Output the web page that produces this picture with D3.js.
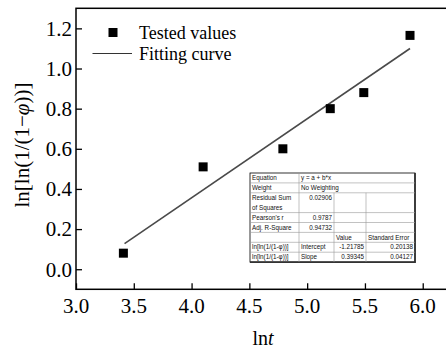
<!DOCTYPE html>
<html>
<head>
<meta charset="utf-8">
<script src="https://cdn.jsdelivr.net/npm/d3@7"></script>
<style>
  body { margin: 0; background: #fff; }
  svg { display: block; }
  .tick-label { font-family: "Liberation Serif", "Times New Roman", serif; font-size: 21px; }
  .tbl { font-family: "Liberation Sans", Arial, sans-serif; font-size: 6.3px; fill: #111; }
</style>
</head>
<body>
<div id="container"></div>
<script>
// measured points: x = ln t, y = ln[ln(1/(1-phi))]
const lnT = [3.41, 4.10, 4.79, 5.20, 5.49, 5.89];
const lnLn = [0.08, 0.51, 0.60, 0.80, 0.88, 1.165];

// linear fit y = a + b*x
const fitA = -1.21786;
const fitB = 0.39345;
const fitX = [3.42, 5.89];

const xTicks = [3.0, 3.5, 4.0, 4.5, 5.0, 5.5, 6.0];
const yTicks = [0.0, 0.2, 0.4, 0.6, 0.8, 1.0, 1.2];

const legendLabels = ["Tested values", "Fitting curve"];

// fit report table (Origin style)
const tblLabels = ["Equation", "Weight", "Residual Sum", "of Squares", "Pearson's r", "Adj. R-Square", "", "ln[ln(1/(1-φ))]", "ln[ln(1/(1-φ))]"];
const tblCol2 = ["y = a + b*x", "No Weighting", "0.02906", "", "0.9787", "0.94732", "", "Intercept", "Slope"];
const tblHead = ["Value", "Standard Error"];
const tblValue = ["-1.21785", "0.39345"];
const tblErr = ["0.20138", "0.04127"];

const width = 446, height = 354;

const svg = d3.select("#container").append("svg")
    .attr("width", width)
    .attr("height", height);

const x = d3.scaleLinear().domain([3, 6.3]).range([76, 457.4]);
const y = d3.scaleLinear().domain([-0.1, 1.3]).range([289.3, 8.3]);

// frame (right side runs off the picture)
svg.append("rect")
    .attr("x", x(3)).attr("y", y(1.3))
    .attr("width", x(6.3) - x(3)).attr("height", y(-0.1) - y(1.3))
    .attr("fill", "none").attr("stroke", "#000").attr("stroke-width", 1.5);

// x axis, ticks pointing in
const xAxis = svg.append("g")
    .attr("transform", `translate(0,${y(-0.1)})`)
    .call(d3.axisTop(x).tickValues(xTicks).tickSize(6).tickFormat(""));
xAxis.select(".domain").remove();
xAxis.selectAll("line").attr("stroke-width", 1.3);

svg.append("g").selectAll("text")
    .data(xTicks)
    .join("text")
    .attr("class", "tick-label")
    .attr("x", d => x(d))
    .attr("y", 312.5)
    .attr("text-anchor", "middle")
    .text(d3.format(".1f"));

const yAxis = svg.append("g")
    .attr("transform", `translate(${x(3)},0)`)
    .call(d3.axisRight(y).tickValues(yTicks).tickSize(6).tickFormat(""));
yAxis.select(".domain").remove();
yAxis.selectAll("line").attr("stroke-width", 1.3);

svg.append("g").selectAll("text")
    .data(yTicks)
    .join("text")
    .attr("class", "tick-label")
    .attr("x", 72)
    .attr("y", d => y(d))
    .attr("dy", "0.35em")
    .attr("text-anchor", "end")
    .text(d3.format(".1f"));

// axis titles
const xt = svg.append("text")
    .attr("x", 263).attr("y", 345)
    .attr("text-anchor", "middle")
    .style("font-family", "Liberation Serif, serif")
    .style("font-size", "20px");
xt.append("tspan").text("ln");
xt.append("tspan").style("font-style", "italic").text("t");

const yt = svg.append("text")
    .attr("transform", "translate(29,145) rotate(-90)")
    .attr("text-anchor", "middle")
    .style("font-family", "Liberation Serif, serif")
    .style("font-size", "21px");
yt.append("tspan").text("ln[ln(1/(1\u2212");
yt.append("tspan").style("font-style", "italic").text("φ");
yt.append("tspan").text("))]");

// fit line
svg.append("line")
    .attr("x1", x(fitX[0])).attr("y1", y(fitA + fitB * fitX[0]))
    .attr("x2", x(fitX[1])).attr("y2", y(fitA + fitB * fitX[1]))
    .attr("stroke", "#4a4a4a").attr("stroke-width", 1.6);

// data markers
const ms = 9;
svg.append("g").selectAll("rect")
    .data(lnT.map((d, i) => [d, lnLn[i]]))
    .join("rect")
    .attr("x", d => x(d[0]) - ms / 2)
    .attr("y", d => y(d[1]) - ms / 2)
    .attr("width", ms).attr("height", ms)
    .attr("fill", "#000");

// legend
const lg = svg.append("g").style("font-family", "Liberation Serif, serif").style("font-size", "18px");
lg.append("rect").attr("x", 108.5).attr("y", 28).attr("width", 9).attr("height", 9).attr("fill", "#000");
lg.append("text").attr("x", 139).attr("y", 39).text(legendLabels[0]);
lg.append("line").attr("x1", 92.5).attr("x2", 132).attr("y1", 53.5).attr("y2", 53.5)
    .attr("stroke", "#333").attr("stroke-width", 1.2);
lg.append("text").attr("x", 139).attr("y", 60).text(legendLabels[1]);

// fit table
const tx = [250, 299, 334, 366, 415];
const ty0 = 173, rh = 9.9;
const ny = tblLabels.length;
const rowY = i => ty0 + i * rh;
const tb = svg.append("g");

tb.append("rect")
    .attr("x", tx[0]).attr("y", ty0)
    .attr("width", tx[4] - tx[0]).attr("height", ny * rh)
    .attr("fill", "#fff").attr("stroke", "#000").attr("stroke-width", 0.8);
// darker right / bottom edges
tb.append("polyline")
    .attr("points", `${tx[4]},${ty0} ${tx[4]},${rowY(ny)} ${tx[0]},${rowY(ny)}`)
    .attr("fill", "none").attr("stroke", "#333").attr("stroke-width", 1.8);

// row lines (row 2-3 is one merged cell)
const hLines = [1, 2, 4, 5, 6, 7, 8];
tb.selectAll(".hl").data(hLines).join("line")
    .attr("x1", tx[0]).attr("x2", tx[4])
    .attr("y1", d => rowY(d)).attr("y2", d => rowY(d))
    .attr("stroke", "#999").attr("stroke-width", 0.6);
tb.append("line").attr("x1", tx[1]).attr("x2", tx[1]).attr("y1", ty0).attr("y2", rowY(ny))
    .attr("stroke", "#999").attr("stroke-width", 0.6);
[2, 3].forEach(c => {
    tb.append("line").attr("x1", tx[c]).attr("x2", tx[c]).attr("y1", rowY(2)).attr("y2", rowY(ny))
        .attr("stroke", "#999").attr("stroke-width", 0.6);
});

tb.selectAll(".c1").data(tblLabels).join("text")
    .attr("class", "tbl")
    .attr("x", tx[0] + 2)
    .attr("y", (d, i) => rowY(i) + rh / 2)
    .attr("dy", "0.35em")
    .text(d => d);

tb.selectAll(".c2").data(tblCol2).join("text")
    .attr("class", "tbl")
    .attr("x", (d, i) => (i < 2 || i > 6) ? tx[1] + 2 : tx[2] - 2)
    .attr("text-anchor", (d, i) => (i < 2 || i > 6) ? "start" : "end")
    .attr("y", (d, i) => rowY(i) + rh / 2)
    .attr("dy", "0.35em")
    .text(d => d);

tb.selectAll(".hd").data(tblHead).join("text")
    .attr("class", "tbl")
    .attr("x", (d, i) => tx[2 + i] + 2)
    .attr("y", rowY(6) + rh / 2)
    .attr("dy", "0.35em")
    .text(d => d);

tb.selectAll(".v").data(tblValue).join("text")
    .attr("class", "tbl")
    .attr("x", tx[3] - 2)
    .attr("text-anchor", "end")
    .attr("y", (d, i) => rowY(7 + i) + rh / 2)
    .attr("dy", "0.35em")
    .text(d => d);

tb.selectAll(".e").data(tblErr).join("text")
    .attr("class", "tbl")
    .attr("x", tx[4] - 2)
    .attr("text-anchor", "end")
    .attr("y", (d, i) => rowY(7 + i) + rh / 2)
    .attr("dy", "0.35em")
    .text(d => d);
</script>
</body>
</html>
